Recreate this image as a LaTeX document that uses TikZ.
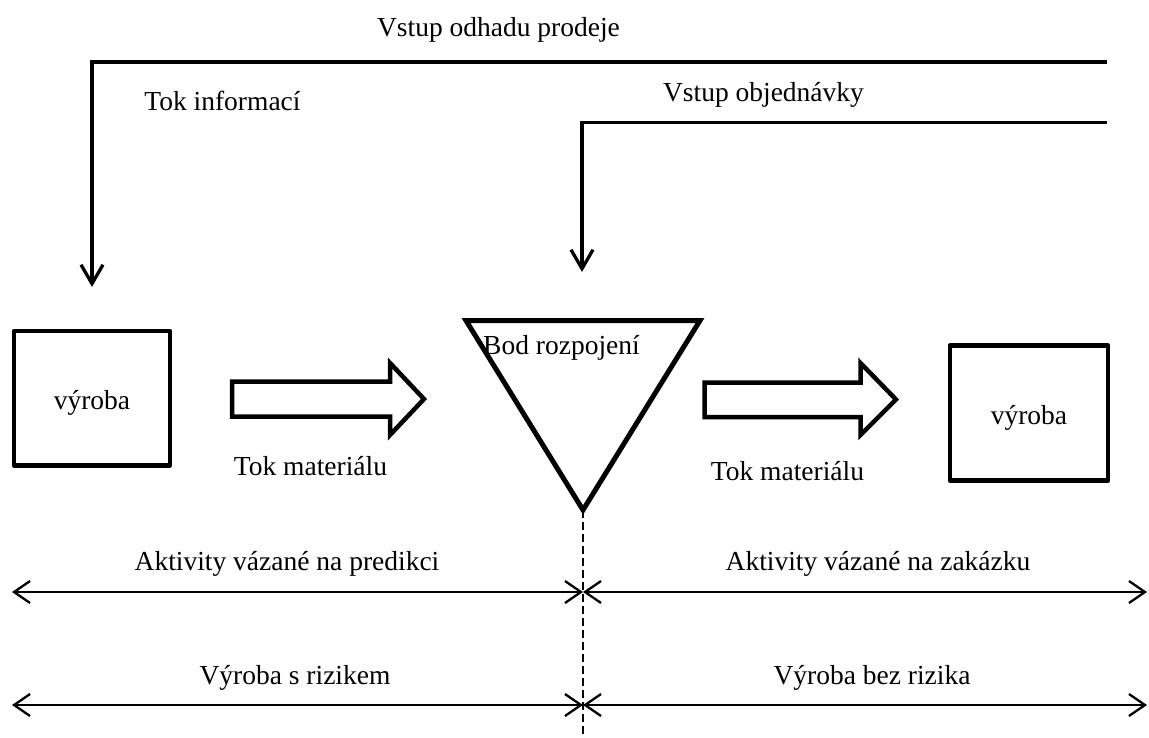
\documentclass[tikz,border=0pt]{standalone}
\usepackage{fontspec}
\setmainfont{Liberation Serif}
\usetikzlibrary{arrows.meta}
\begin{document}
\begin{tikzpicture}[x=1pt,y=-1pt,
  lbl/.style={font=\fontsize{27.5}{33}\selectfont, inner sep=0pt, anchor=base},
  info/.style={line width=3.3pt, line join=miter,
    -{Straight Barb[length=19pt,width=22pt]}},
  span/.style={line width=2.3pt,
    {Straight Barb[length=16pt,width=22pt]}-{Straight Barb[length=16pt,width=22pt]}},
  box/.style={draw, line width=4.5pt, line join=round, inner sep=0pt,
    font=\fontsize{27.5}{33}\selectfont, text height=22pt, text depth=0pt},
  flow/.style={draw, line width=4.5pt, line join=miter, fill=white},
  split/.style={draw, line width=5pt, line join=miter}
]
\useasboundingbox (0,0) rectangle (1149,737);

% information flows from the right edge down to the stages
\coordinate (fcIn) at (1107,62);
\coordinate (fcTip) at (92,287);
\coordinate (ordIn) at (1107,122.5);
\coordinate (ordTip) at (582,272);
\draw[info] (fcIn) -| (fcTip);
\draw[info] (ordIn) -| (ordTip);
\node[lbl] (fcLbl) at (498.5,36) {Vstup odhadu prodeje};
\node[lbl] (ordLbl) at (763.5,101.5) {Vstup objednávky};
\node[lbl] (infoLbl) at (222.5,110) {Tok informací};

% production stages
\node[box, minimum width=156pt, minimum height=134.5pt] (prodL) at (92,398) {výroba};
\node[box, minimum width=158pt, minimum height=135pt] (prodR) at (1029,413) {výroba};

% decoupling point
\coordinate (dpL) at (466,320.5);
\coordinate (dpR) at (700,320.5);
\coordinate (dpB) at (583,510);
\draw[split] (dpL) -- (dpR) -- (dpB) -- cycle;
\node[lbl] (dpLbl) at (561.5,354) {Bod rozpojení};

% material flow block arrows
\draw[flow] (232,381.5) -- (390,381.5) -- (390,363) -- (424,399) -- (390,435)
  -- (390,416.5) -- (232,416.5) -- cycle;
\draw[flow] (704.5,382.5) -- (860.5,382.5) -- (860.5,363) -- (896,399.5) -- (860.5,435)
  -- (860.5,417) -- (704.5,417) -- cycle;
\node[lbl] (matL) at (310.5,475) {Tok materiálu};
\node[lbl] (matR) at (787.5,480) {Tok materiálu};

% split line below the decoupling point
\coordinate (cutEnd) at (583,737);
\draw[line width=2pt, dash pattern=on 8pt off 4pt] (dpB) -- (cutEnd);

% activity spans
\coordinate (a1L) at (12,592);
\coordinate (a1M) at (583,592);
\coordinate (a1R) at (1147,592);
\coordinate (a2L) at (12,705);
\coordinate (a2M) at (583,705);
\coordinate (a2R) at (1147,705);
\draw[span] (a1L) -- (a1M);
\draw[span] (a1M) -- (a1R);
\draw[span] (a2L) -- (a2M);
\draw[span] (a2M) -- (a2R);
\node[lbl] (actL) at (287,570) {Aktivity vázané na predikci};
\node[lbl] (actR) at (878,570) {Aktivity vázané na zakázku};
\node[lbl] (riskL) at (295,684) {Výroba s rizikem};
\node[lbl] (riskR) at (872,684) {Výroba bez rizika};
\end{tikzpicture}
\end{document}
